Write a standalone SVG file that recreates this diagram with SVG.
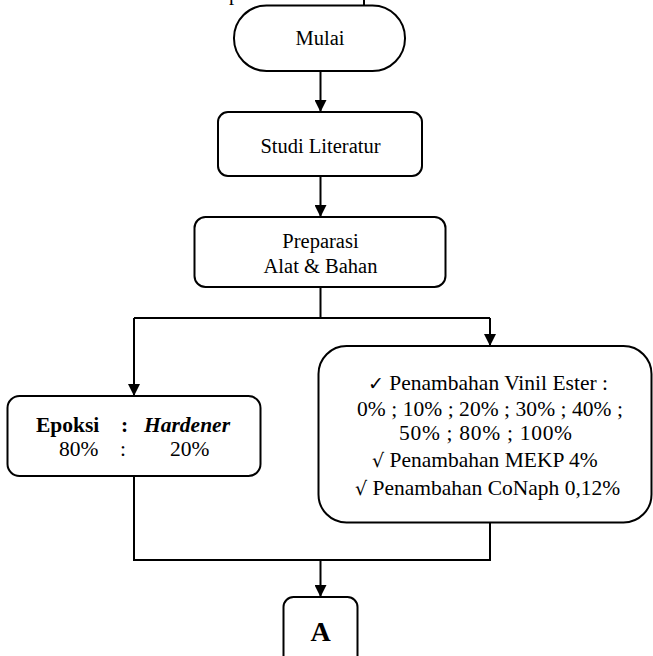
<svg xmlns="http://www.w3.org/2000/svg" width="653" height="656" viewBox="0 0 653 656">
<defs>
<marker id="ah" viewBox="0 0 12 12" refX="12" refY="6" markerWidth="12" markerHeight="12" markerUnits="userSpaceOnUse" orient="auto">
<path d="M0,0 L12,6 L0,12 z" fill="#000"/>
</marker>
<style>
.box{fill:#fff;stroke:#000;stroke-width:2}
.ln{fill:none;stroke:#000;stroke-width:2}
.t{font-family:"Liberation Serif","DejaVu Serif",serif;font-size:20.5px;fill:#000}
.tb{font-family:"Liberation Serif","DejaVu Serif",serif;font-size:21.5px;fill:#000}
.ck{font-family:"DejaVu Sans",sans-serif;font-size:19px}
.big{font-size:28px;font-weight:bold}
</style>
</defs>
<rect width="653" height="656" fill="#fff"/>
<g id="top-fragment">
<text class="t" x="229" y="-0.5">p</text>
<line class="ln" x1="364" y1="0" x2="364" y2="6"/>
</g>
<g id="connectors">
<path class="ln" d="M320.5,71 V112" marker-end="url(#ah)"/>
<path class="ln" d="M320.5,176 V217" marker-end="url(#ah)"/>
<path class="ln" d="M320.5,287 V318 M134,318 H490"/>
<path class="ln" d="M134,318 V396" marker-end="url(#ah)"/>
<path class="ln" d="M490,318 V346" marker-end="url(#ah)"/>
<path class="ln" d="M134,476 V560 H490 V522.5"/>
<path class="ln" d="M320.5,560 V597" marker-end="url(#ah)"/>
</g>
<g id="mulai">
<rect class="box" x="234" y="5.5" width="171" height="65.5" rx="32.5"/>
<text class="t" x="320" y="44.5" text-anchor="middle">Mulai</text>
</g>
<g id="studi">
<rect class="box" x="218" y="112" width="204" height="64" rx="10"/>
<text class="t" x="320.5" y="153" text-anchor="middle">Studi Literatur</text>
</g>
<g id="preparasi">
<rect class="box" x="194.5" y="217" width="251" height="70" rx="11"/>
<text class="t" x="320.5" y="248" text-anchor="middle">Preparasi</text>
<text class="t" x="320.5" y="273" text-anchor="middle">Alat &amp; Bahan</text>
</g>
<g id="epoksi">
<rect class="box" x="7.5" y="396" width="253" height="80" rx="12"/>
<text class="tb" x="36" y="432" font-weight="bold">Epoksi</text>
<text class="tb" x="121" y="432" font-weight="bold">:</text>
<text class="tb" x="144" y="432" font-weight="bold" font-style="italic">Hardener</text>
<text class="tb" x="59" y="456">80%</text>
<text class="tb" x="120" y="456">:</text>
<text class="tb" x="170" y="456">20%</text>
</g>
<g id="penambahan">
<rect class="box" x="318.5" y="346" width="333" height="176.5" rx="28"/>
<text class="tb" x="368" y="390"><tspan class="ck">✓</tspan> Penambahan Vinil  Ester :</text>
<text class="tb" x="357" y="416" textLength="266" lengthAdjust="spacing">0% ; 10% ; 20% ; 30% ; 40% ;</text>
<text class="tb" x="399" y="440" textLength="173" lengthAdjust="spacing">50% ; 80% ; 100%</text>
<text class="tb" x="372" y="467"><tspan class="ck">√</tspan> Penambahan MEKP 4%</text>
<text class="tb" x="355" y="495"><tspan class="ck">√</tspan> Penambahan CoNaph 0,12%</text>
</g>
<g id="a">
<rect class="box" x="283.5" y="597" width="74" height="75" rx="10"/>
<text class="t big" x="320.5" y="641" text-anchor="middle">A</text>
</g>
</svg>
